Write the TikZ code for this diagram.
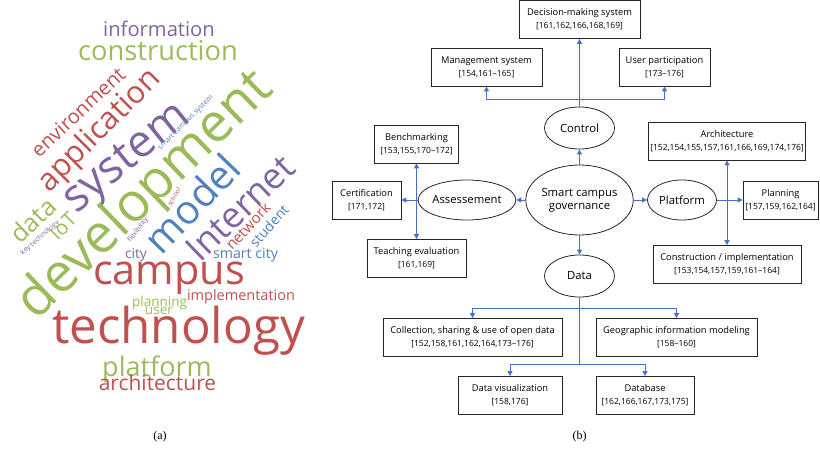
\documentclass[tikz,border=0pt]{standalone}
\usepackage{fontspec}
\setmainfont{Open Sans}
\newfontfamily\captionfont{Liberation Serif}
\usetikzlibrary{shapes.geometric,arrows.meta}
\definecolor{cloudred}{HTML}{C0504D}
\definecolor{cloudgreen}{HTML}{9BBB59}
\definecolor{cloudpurple}{HTML}{8064A2}
\definecolor{cloudblue}{HTML}{4F81BD}
\definecolor{linkblue}{RGB}{70,114,196}
\definecolor{boxline}{HTML}{262626}
\newcommand\refnums[1]{{\fontsize{8.5}{13}\selectfont #1}}

\begin{document}
\begin{tikzpicture}[x=1pt,y=-1pt,
    cloudword/.style={inner sep=0pt,font=\fontsize{#1}{#1}\selectfont},
    refbox/.style={draw=boxline,line width=0.8pt,align=center,inner sep=1pt,
      minimum height=38pt,font=\fontsize{9.3}{13}\selectfont},
    topic/.style={draw=boxline,ellipse,line width=0.8pt,inner sep=0pt,
      align=center,font=\fontsize{11.3}{13}\selectfont},
    link/.style={draw=linkblue,line width=0.9pt,-{Triangle[length=5pt,width=5pt]}},
    branch/.style={draw=linkblue,line width=0.9pt}]
    \useasboundingbox (0,0) rectangle (820,452);

    % (a) word cloud
    \node[cloudword=20.2,text=cloudpurple] (information) at (159,29) {information};
    \node[cloudword=27.3,text=cloudgreen] (construction) at (158,51) {construction};
    \node[cloudword=20,text=cloudred,rotate=43] (environment) at (78,112) {environment};
    \node[cloudword=31,text=cloudred,rotate=45] (application) at (100,131) {application};
    \node[cloudword=45,text=cloudpurple,rotate=39] (system) at (128,160) {system};
    \node[cloudword=54,text=cloudgreen,rotate=44] (development) at (146,196) {development};
    \node[cloudword=7.3,text=cloudblue,rotate=45] (smartcampus) at (186,123) {smart campus system};
    \node[cloudword=40,text=cloudblue,rotate=46] (model) at (192,203) {model};
    \node[cloudword=36,text=cloudpurple,rotate=44] (internet) at (240,208) {Internet};
    \node[cloudword=15,text=cloudred,rotate=47] (network) at (248,226) {network};
    \node[cloudword=14,text=cloudblue,rotate=48] (student) at (269,226) {student};
    \node[cloudword=6.6,text=cloudred,rotate=61] (school) at (174,197) {school};
    \node[cloudword=7,text=cloudpurple,rotate=52] (flexibility) at (138,230) {flexibility};
    \node[cloudword=7,text=cloudpurple,rotate=41] (keytech) at (40,238) {key technology};
    \node[cloudword=20,text=cloudgreen,rotate=45] (iot) at (63,226) {IoT};
    \node[cloudword=25,text=cloudgreen,rotate=44] (data) at (33,220) {data};
    \node[cloudword=14.2,text=cloudblue] (smartcity) at (245.5,255) {smart city};
    \node[cloudword=13.8,text=cloudpurple] (city) at (136,255) {city};
    \node[cloudword=41.4,text=cloudred] (campus) at (169,278) {campus};
    \node[cloudword=14.5,text=cloudred] (implementation) at (241,297) {implementation};
    \node[cloudword=13.5,text=cloudgreen] (planning) at (159.5,303) {planning};
    \node[cloudword=13.6,text=cloudgreen] (user) at (159,311) {user};
    \node[cloudword=49.3,text=cloudred] (technology) at (178.5,331) {technology};
    \node[cloudword=27,text=cloudgreen] (platform) at (157,369) {platform};
    \node[cloudword=21,text=cloudred] (architecture) at (157.5,383) {architecture};

    % (b) governance tree
    \node[refbox,minimum width=121pt] (Decision) at (579.5,19.5) {Decision-making system\\\refnums{[161,162,166,168,169]}};
    \node[refbox,minimum width=111pt] (Management) at (486.5,67) {Management system\\\refnums{[154,161–165]}};
    \node[refbox,minimum width=91pt] (Participation) at (664.5,67) {User participation\\\refnums{[173–176]}};
    \node[topic,minimum width=70pt,minimum height=42pt] (Control) at (579.5,128) {Control};
    \node[topic,minimum width=98pt,minimum height=70pt] (Governance) at (579.5,200) {Smart campus\\governance};
    \node[topic,minimum width=91pt,minimum height=40pt] (Assessement) at (467,200) {Assessement};
    \node[topic,minimum width=69pt,minimum height=40pt] (Platform) at (682,200) {Platform};
    \node[topic,minimum width=70pt,minimum height=42pt] (Data) at (579.5,276) {Data};
    \node[refbox,minimum width=84pt] (Benchmarking) at (416.5,144) {Benchmarking\\\refnums{[153,155,170–172]}};
    \node[refbox,minimum width=69pt] (Certification) at (366.5,200) {Certification\\\refnums{[171,172]}};
    \node[refbox,minimum width=99pt] (Teaching) at (416.5,258.5) {Teaching evaluation\\\refnums{[161,169]}};
    \node[refbox,minimum width=157pt] (Architecture) at (727,141) {Architecture\\\refnums{[152,154,155,157,161,166,169,174,176]}};
    \node[refbox,minimum width=75pt] (Planning) at (780.5,200) {Planning\\\refnums{[157,159,162,164]}};
    \node[refbox,minimum width=148pt] (Construction) at (727,264.5) {Construction / implementation\\\refnums{[153,154,157,159,161–164]}};
    \node[refbox,minimum width=179pt] (Collection) at (472.5,337.5) {Collection, sharing \& use of open data\\\refnums{[152,158,161,162,164,173–176]}};
    \node[refbox,minimum width=161pt] (Geographic) at (676.5,337.5) {Geographic information modeling\\\refnums{[158–160]}};
    \node[refbox,minimum width=104pt] (Visualization) at (510,395.5) {Data visualization\\\refnums{[158,176]}};
    \node[refbox,minimum width=98pt] (Database) at (645,395.5) {Database\\\refnums{[162,166,167,173,175]}};

    \coordinate (cjunc) at (579.5,99);
    \coordinate (ajunc) at (416.5,200);
    \coordinate (pjunc) at (727,200);
    \coordinate (djunc) at (579.5,308);
    \coordinate (vjunc) at (579.5,364);

    \draw[link] (Governance) -- (Control);
    \draw[link] (Governance) -- (Assessement);
    \draw[link] (Governance) -- (Platform);
    \draw[link] (Governance) -- (Data);
    \draw[link] (Control) -- (Decision);
    \draw[link] (cjunc) -| (Management.south);
    \draw[link] (cjunc) -| (Participation.south);
    \draw[branch] (Assessement) -- (ajunc);
    \draw[link] (ajunc) -- (Certification);
    \draw[link] (ajunc) -- (Benchmarking);
    \draw[link] (ajunc) -- (Teaching);
    \draw[branch] (Platform) -- (pjunc);
    \draw[link] (pjunc) -- (Planning);
    \draw[link] (pjunc) -- (Architecture);
    \draw[link] (pjunc) -- (Construction);
    \draw[branch] (Data) -- (vjunc);
    \draw[link] (djunc) -| (Collection.north);
    \draw[link] (djunc) -| (Geographic.north);
    \draw[link] (vjunc) -| (Visualization.north);
    \draw[link] (vjunc) -| (Database.north);

    \node[font=\captionfont\fontsize{12}{12}\selectfont] (capa) at (160,437) {(a)};
    \node[font=\captionfont\fontsize{12}{12}\selectfont] (capb) at (579.5,437) {(b)};
\end{tikzpicture}
\end{document}
